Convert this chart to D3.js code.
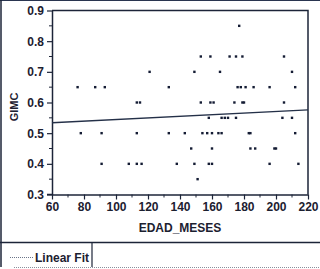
<!DOCTYPE html>
<html>
<head>
<meta charset="utf-8">
<script src="https://cdn.jsdelivr.net/npm/d3@7"></script>
<style>
  body { margin: 0; background: #fff; }
  svg { display: block; }
  text { font-family: "Liberation Sans", Arial, sans-serif; fill: #1c2030; }
</style>
</head>
<body>
<svg id="chart" width="320" height="269"></svg>
<script>
// EDAD_MESES (x) and GIMC (y)
var edad = [177,
  153, 159, 171, 175, 179, 205,
  121, 149, 165, 210,
  76, 87, 93, 133, 176, 178, 181, 186, 196, 212,
  113, 115, 153, 159, 161, 174, 179, 180, 205,
  158, 166, 168, 170, 175, 204, 210,
  78, 91, 113, 133, 143, 154, 157, 160, 164, 166, 183, 184, 212,
  147, 160, 184, 187, 199, 200,
  91, 108, 113, 116, 138, 149, 158, 160, 196, 214,
  151];
var gimc = [0.85,
  0.75, 0.75, 0.75, 0.75, 0.75, 0.75,
  0.7, 0.7, 0.7, 0.7,
  0.65, 0.65, 0.65, 0.65, 0.65, 0.65, 0.65, 0.65, 0.65, 0.65,
  0.6, 0.6, 0.6, 0.6, 0.6, 0.6, 0.6, 0.6, 0.6,
  0.55, 0.55, 0.55, 0.55, 0.55, 0.55, 0.55,
  0.5, 0.5, 0.5, 0.5, 0.5, 0.5, 0.5, 0.5, 0.5, 0.5, 0.5, 0.5, 0.5,
  0.45, 0.45, 0.45, 0.45, 0.45, 0.45,
  0.4, 0.4, 0.4, 0.4, 0.4, 0.4, 0.4, 0.4, 0.4, 0.4,
  0.35];

// linear fit line ends
var fitX = [60, 220];
var fitY = [0.534, 0.576];

var xTicks = [60, 80, 100, 120, 140, 160, 180, 200, 220];
var yTicks = [0.3, 0.4, 0.5, 0.6, 0.7, 0.8, 0.9];

var ink = "#1c2438";
var svg = d3.select("#chart");

var x = d3.scaleLinear().domain([60, 220]).range([52, 308]);
var y = d3.scaleLinear().domain([0.3, 0.9]).range([194.5, 10.5]);

// outer frame bits
svg.append("line").attr("x1", 0).attr("x2", 320).attr("y1", 0.5).attr("y2", 0.5)
  .attr("stroke", "#2a3550").attr("stroke-width", 1);
svg.append("line").attr("x1", 1).attr("x2", 1).attr("y1", 0).attr("y2", 267)
  .attr("stroke", ink).attr("stroke-width", 1.5);

// plot frame (top + right)
svg.append("path")
  .attr("d", "M" + x(60) + "," + y(0.9) + "H" + x(220) + "V" + y(0.3))
  .attr("fill", "none").attr("stroke", ink).attr("stroke-width", 1.5);

// minor ticks
var xMinor = d3.range(70, 220, 20);
var yMinor = d3.range(0.35, 0.9, 0.1);
svg.append("g").selectAll("line").data(xMinor).enter().append("line")
  .attr("x1", function(d) { return x(d); }).attr("x2", function(d) { return x(d); })
  .attr("y1", y(0.3)).attr("y2", y(0.3) + 3)
  .attr("stroke", ink);
svg.append("g").selectAll("line").data(yMinor).enter().append("line")
  .attr("y1", function(d) { return y(d); }).attr("y2", function(d) { return y(d); })
  .attr("x1", x(60)).attr("x2", x(60) - 3)
  .attr("stroke", ink);

var xAxis = svg.append("g")
  .attr("transform", "translate(0," + y(0.3) + ")")
  .call(d3.axisBottom(x).tickValues(xTicks).tickSize(5).tickSizeOuter(0).tickPadding(3));
var yAxis = svg.append("g")
  .attr("transform", "translate(" + x(60) + ",0)")
  .call(d3.axisLeft(y).tickValues(yTicks).tickFormat(d3.format(".1f")).tickSize(5).tickSizeOuter(0).tickPadding(3));

[xAxis, yAxis].forEach(function(g) {
  g.select(".domain").attr("stroke", ink).attr("stroke-width", 1.5);
  g.selectAll(".tick line").attr("stroke", ink).attr("stroke-width", 1.2);
  g.selectAll(".tick text")
    .attr("font-size", 12).attr("font-weight", "bold")
    .style("fill", "#1c2030").attr("font-family", null);
});
// extend bottom axis line slightly left like the original
svg.append("line").attr("x1", x(60) - 5).attr("x2", x(60)).attr("y1", y(0.3)).attr("y2", y(0.3))
  .attr("stroke", ink).attr("stroke-width", 1.5);

// fit line
var fitData = fitX.map(function(v, i) { return [v, fitY[i]]; });
svg.append("path")
  .datum(fitData)
  .attr("d", d3.line().x(function(d) { return x(d[0]); }).y(function(d) { return y(d[1]); }))
  .attr("fill", "none").attr("stroke", "#243048").attr("stroke-width", 1.3);

// points
svg.append("g").selectAll("rect").data(edad).enter().append("rect")
  .attr("x", function(d) { return x(d) - 1.2; })
  .attr("y", function(d, i) { return y(gimc[i]) - 1.2; })
  .attr("width", 2.4).attr("height", 2.4)
  .attr("fill", "#141c34");

// axis titles
svg.append("text")
  .attr("x", 180).attr("y", 232)
  .attr("text-anchor", "middle")
  .attr("font-size", 12).attr("font-weight", "bold")
  .text("EDAD_MESES");
svg.append("text")
  .attr("transform", "translate(18,107) rotate(-90)")
  .attr("text-anchor", "middle")
  .attr("font-size", 11).attr("font-weight", "bold")
  .text("GIMC");

// legend strip
svg.append("line").attr("x1", 0).attr("x2", 320).attr("y1", 242.5).attr("y2", 242.5)
  .attr("stroke", ink).attr("stroke-width", 1.5);
svg.append("line").attr("x1", 92).attr("x2", 92).attr("y1", 242).attr("y2", 267)
  .attr("stroke", ink).attr("stroke-width", 1.2);
svg.append("line").attr("x1", 14).attr("x2", 320).attr("y1", 267.5).attr("y2", 267.5)
  .attr("stroke", "#8a8f9c").attr("stroke-width", 1).attr("stroke-dasharray", "1,1");
svg.append("line").attr("x1", 10).attr("x2", 33).attr("y1", 257.5).attr("y2", 257.5)
  .attr("stroke", "#6a7488").attr("stroke-width", 1).attr("stroke-dasharray", "1,1");
svg.append("text")
  .attr("x", 35).attr("y", 262)
  .attr("font-size", 12).attr("font-weight", "bold")
  .text("Linear Fit");
</script>
</body>
</html>
